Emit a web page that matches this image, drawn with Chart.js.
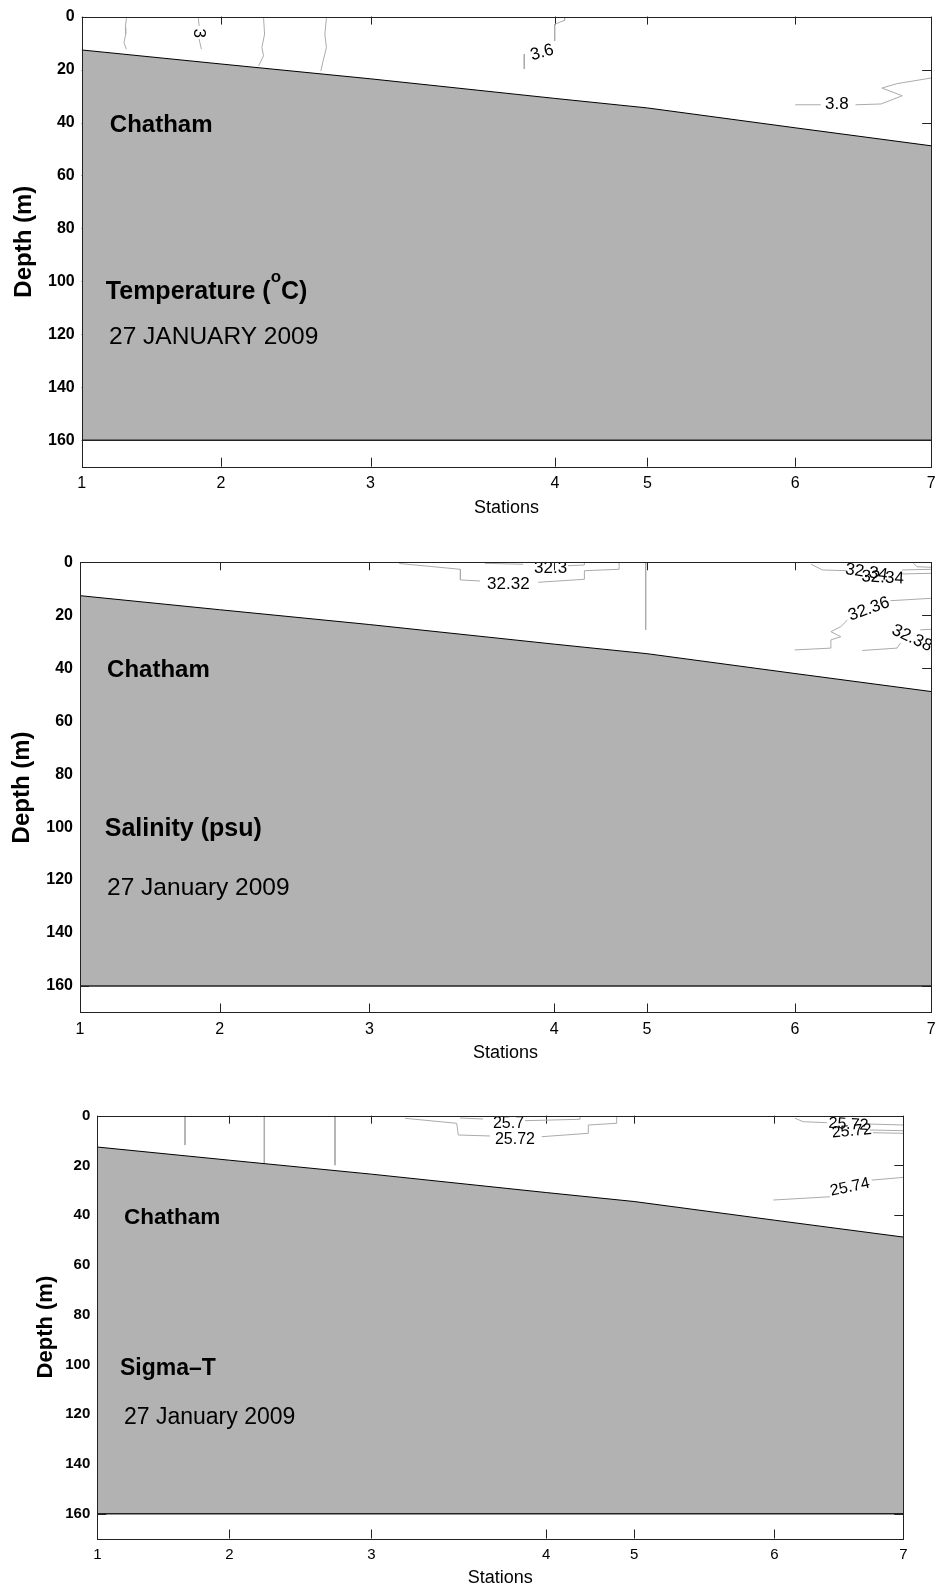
<!DOCTYPE html>
<html>
<head>
<meta charset="utf-8">
<script src="https://cdn.jsdelivr.net/npm/chart.js@4.4.0/dist/chart.umd.min.js"></script>
<style>
  html, body { margin: 0; padding: 0; background: #fff; }
  body { position: relative; width: 943px; height: 1589px; overflow: hidden; }
  canvas { position: absolute; left: 0; }
</style>
</head>
<body>
<canvas id="c1"></canvas>
<canvas id="c2"></canvas>
<canvas id="c3"></canvas>
<script>
const FONT = '"Liberation Sans", Arial, Helvetica, sans-serif';

// section geometry
const stationLabels = ['1', '2', '3', '4', '5', '6', '7'];
const stationDist = [0, 16.4, 34.0, 55.7, 66.6, 84.0, 100];   // position along section (% of length)
const seabedDepth = [12.6, 17.9, 23.5, 30.9, 34.5, 42.0, 48.8];
const depthTicks = [0, 20, 40, 60, 80, 100, 120, 140, 160];
const depthMax = 170;
const sectionFloor = 160;

// contour traces as [distance, depth]; null = break where the label sits
const tempContours = [
  [[5.26, 0.6], [5.14, 4.1], [5.18, 6.6], [4.98, 9.8], [5.26, 12.3]],
  [[13.74, 0.6], [13.82, 3.5], null, [13.82, 8.5], [14.09, 12.3]],
  [[21.41, 0.6], [21.53, 6.6], [21.21, 11.7], [21.41, 14.8], [20.83, 18.6]],
  [[28.81, 0.6], [28.62, 6.6], [28.81, 11.7], [28.42, 16.7], [28.15, 20.5]],
  [[56.85, 0.4], [56.85, 1.4], [55.68, 2.9], [55.68, 9.2], null, [52.1, 14.2], [52.1, 19.8]],
  [[84.0, 33.3], [87.0, 33.3], null, [91.1, 33.3], [94.1, 33.0], [96.6, 29.9], [94.2, 27.0], [96.0, 25.3], [100, 23.2]]
];
const tempLabels = [['3', 13.8, 6.3, 90], ['3.6', 54.2, 13.6, -15], ['3.8', 88.9, 33.3, 0]];

const salContours = [
  [[37.51, 0.45], [44.69, 2.64], [44.69, 6.67], [46.99, 7.05], null, [53.83, 7.54], [59.26, 6.41], [59.26, 3.17], [63.34, 2.64], [63.34, 0.15]],
  [[47.57, 0.38], [52.08, 0.75], null, [57.33, 1.28], [59.26, 1.02], [59.26, 0.08]],
  [[66.46, 0], [66.46, 25.5]],
  [[85.89, 0.75], [87.24, 2.9], [90.15, 3.17]],
  [[96.58, 2.9], [100, 2.64]],
  [[96.58, 4.41], [100, 4.15]],
  [[97.94, 0.38], [98.32, 1.66], [100, 1.89]],
  [[95.22, 14.5], [100, 13.6]],
  [[83.94, 33.1], [88.22, 32.4], [88.22, 29.3], [89.38, 28.1], [88.22, 26.2], [89.38, 24.3], [90.16, 21.8]],
  [[91.91, 33.3], [95.99, 32.4], [96.39, 30.5]],
  [[98.72, 25.5], [100, 25.3]]
];
const salLabels = [['32.3', 55.29, 2.3, 0], ['32.32', 50.33, 8.3, 0], ['32.34', 92.4, 3.8, 8],
  ['32.34', 94.3, 5.8, 3], ['32.36', 92.69, 17.7, -20], ['32.38', 97.74, 28.7, 25]];

const sigContours = [
  [[10.88, 0], [10.88, 11.8]],
  [[20.72, 0], [20.72, 19.1]],
  [[29.49, 0], [29.49, 19.9]],
  [[38.18, 1.05], [44.59, 3.06], [44.79, 7.76], [48.72, 8.16], null, [55.14, 8.44], [60.92, 7.08], [60.92, 3.74], [64.44, 3.06], [64.44, 0.1]],
  [[45.0, 0.92], [47.85, 1.33], null, [53.06, 2.0], [59.89, 1.45], [59.89, 0.4]],
  [[86.56, 1.05], [87.59, 2.41], [90.5, 2.81]],
  [[95.62, 3.34], [100, 3.74]],
  [[95.87, 5.75], [100, 6.03]],
  [[96.24, 6.84], [100, 7.08]],
  [[83.87, 33.9], [90.9, 32.6]],
  [[96.08, 25.9], [100, 24.8]]
];
const sigLabels = [['25.7', 51.02, 3.0, 0], ['25.72', 51.82, 9.5, 0], ['25.72', 93.2, 3.5, 3],
  ['25.72', 93.6, 6.3, -5], ['25.74', 93.39, 28.8, -12]];

const panels = [
  {
    canvas: 'c1', top: 0, height: 530, plot: { l: 81.7, t: 15.7, r: 937.7, b: 466.7 },
    contours: tempContours, labels: tempLabels, labelSize: 17,
    yTickSize: 16, xTickSize: 16, depthSize: 24, depthPad: 9.6, stationsPad: 10.9,
    notes: [
      { runs: [{ t: 'Chatham' }], x: 3.31, y: 43.4, font: 'bold 24px' },
      { runs: [{ t: 'Temperature (' }, { t: 'o', sup: true }, { t: 'C)' }], x: 2.84, y: 106.6, font: 'bold 25px', supFont: 'bold 17px' },
      { runs: [{ t: '27 JANUARY 2009' }], x: 3.22, y: 123.8, font: '24.5px' }
    ]
  },
  {
    canvas: 'c2', top: 530, height: 550, plot: { l: 80, t: 562.3, r: 937.7, b: 1012.5 },
    contours: salContours, labels: salLabels, labelSize: 17,
    yTickSize: 16, xTickSize: 16, depthSize: 24, depthPad: 8.3, stationsPad: 15.8,
    notes: [
      { runs: [{ t: 'Chatham' }], x: 3.18, y: 43.4, font: 'bold 24px' },
      { runs: [{ t: 'Salinity (psu)' }], x: 2.91, y: 103.5, font: 'bold 25px' },
      { runs: [{ t: '27 January 2009' }], x: 3.18, y: 125.8, font: '24.5px' }
    ]
  },
  {
    canvas: 'c3', top: 1080, height: 509, plot: { l: 97.3, t: 1115.7, r: 903.3, b: 1538.5 },
    contours: sigContours, labels: sigLabels, labelSize: 16,
    yTickSize: 15, xTickSize: 15, depthSize: 22, depthPad: 32.5, stationsPad: 0,
    notes: [
      { runs: [{ t: 'Chatham' }], x: 3.31, y: 43.5, font: 'bold 22.5px' },
      { runs: [{ t: 'Sigma–T' }], x: 2.82, y: 104.3, font: 'bold 23px' },
      { runs: [{ t: '27 January 2009' }], x: 3.31, y: 124.0, font: '23px' }
    ]
  }
];

const sectionPlugin = {
  id: 'section',
  beforeDatasetsDraw(chart) {
    // inward tick marks on all four sides (the seabed fill later hides the ones below it)
    const { ctx, chartArea: a, scales: { x, y } } = chart;
    ctx.save();
    ctx.strokeStyle = '#222';
    ctx.lineWidth = 1;
    ctx.beginPath();
    x.ticks.forEach(t => {
      const px = Math.round(x.getPixelForValue(t.value)) + 0.5;
      ctx.moveTo(px, a.top); ctx.lineTo(px, a.top + 8);
      ctx.moveTo(px, a.bottom); ctx.lineTo(px, a.bottom - 9);
    });
    y.ticks.forEach(t => {
      const py = Math.round(y.getPixelForValue(t.value)) + 0.5;
      ctx.moveTo(a.left, py); ctx.lineTo(a.left + 9, py);
      ctx.moveTo(a.right, py); ctx.lineTo(a.right - 9, py);
    });
    ctx.stroke();
    ctx.restore();
  },
  afterDatasetsDraw(chart, args, opts) {
    const { ctx, chartArea: a, scales: { x, y } } = chart;
    ctx.save();
    ctx.beginPath();
    ctx.rect(a.left, a.top, a.right - a.left, a.bottom - a.top);
    ctx.clip();
    // contour labels
    ctx.fillStyle = '#000';
    ctx.font = opts.labelSize + 'px ' + FONT;
    ctx.textAlign = 'center';
    ctx.textBaseline = 'middle';
    opts.labels.forEach(([txt, d, z, ang]) => {
      ctx.save();
      ctx.translate(x.getPixelForValue(d), y.getPixelForValue(z));
      ctx.rotate(ang * Math.PI / 180);
      ctx.fillText(txt, 0, 0);
      ctx.restore();
    });
    // panel annotations
    ctx.textAlign = 'left';
    ctx.textBaseline = 'alphabetic';
    opts.notes.forEach(n => {
      let px = x.getPixelForValue(n.x);
      const py = y.getPixelForValue(n.y);
      n.runs.forEach(r => {
        ctx.font = (r.sup ? n.supFont : n.font) + ' ' + FONT;
        ctx.fillText(r.t, px, r.sup ? py - 16.5 : py);
        px += ctx.measureText(r.t).width;
      });
    });
    ctx.restore();
    // axes box
    ctx.save();
    ctx.strokeStyle = '#222';
    ctx.lineWidth = 1;
    ctx.strokeRect(Math.round(a.left) + 0.5, Math.round(a.top) + 0.5,
      Math.round(a.right - a.left), Math.round(a.bottom - a.top));
    ctx.restore();
  }
};

panels.forEach(p => {
  const cv = document.getElementById(p.canvas);
  cv.width = 943;
  cv.height = p.height;
  cv.style.top = p.top + 'px';

  const datasets = [
    {
      data: [{ x: stationDist[0], y: sectionFloor }, { x: stationDist[stationDist.length - 1], y: sectionFloor }],
      showLine: true, borderColor: '#222', borderWidth: 1.5, pointRadius: 0, fill: false
    },
    {
      data: stationDist.map((d, i) => ({ x: d, y: seabedDepth[i] })),
      showLine: true, borderColor: '#000', borderWidth: 1, pointRadius: 0,
      fill: { value: sectionFloor }, backgroundColor: '#b2b2b2'
    }
  ];
  p.contours.forEach(c => {
    datasets.push({
      data: c.map(pt => pt ? { x: pt[0], y: pt[1] } : { x: null, y: null }),
      showLine: true, borderColor: '#ababab', borderWidth: 1, pointRadius: 0, fill: false
    });
  });

  new Chart(cv, {
    type: 'scatter',
    data: { datasets },
    options: {
      responsive: false,
      animation: false,
      events: [],
      layout: { padding: { top: p.plot.t - p.top, right: 943 - p.plot.r, left: 0, bottom: 0 } },
      plugins: {
        legend: { display: false },
        tooltip: { enabled: false },
        section: { labels: p.labels, labelSize: p.labelSize, notes: p.notes }
      },
      scales: {
        x: {
          type: 'linear', position: 'bottom', min: 0, max: 100,
          afterBuildTicks: s => { s.ticks = stationDist.map(v => ({ value: v })); },
          afterFit: s => { s.height = p.top + p.height - p.plot.b; },
          grid: { display: false, drawTicks: false },
          border: { display: false },
          ticks: {
            autoSkip: false, maxRotation: 0, padding: 7.4, color: '#000',
            font: { family: FONT, size: p.xTickSize },
            callback: (v, i) => stationLabels[i]
          },
          title: {
            display: true, text: 'Stations', color: '#000',
            font: { family: FONT, size: 18 }, padding: { top: 0, bottom: p.stationsPad }
          }
        },
        y: {
          type: 'linear', position: 'left', min: 0, max: depthMax, reverse: true,
          afterBuildTicks: s => { s.ticks = depthTicks.map(v => ({ value: v })); },
          afterFit: s => { s.width = p.plot.l; },
          grid: { display: false, drawTicks: false },
          border: { display: false },
          ticks: {
            padding: 7, color: '#000',
            font: { family: FONT, size: p.yTickSize, weight: 'bold' }
          },
          title: {
            display: true, text: 'Depth (m)', color: '#000',
            font: { family: FONT, size: p.depthSize, weight: 'bold' },
            padding: { top: p.depthPad, bottom: 0 }
          }
        }
      }
    },
    plugins: [sectionPlugin]
  });
});
</script>
</body>
</html>
